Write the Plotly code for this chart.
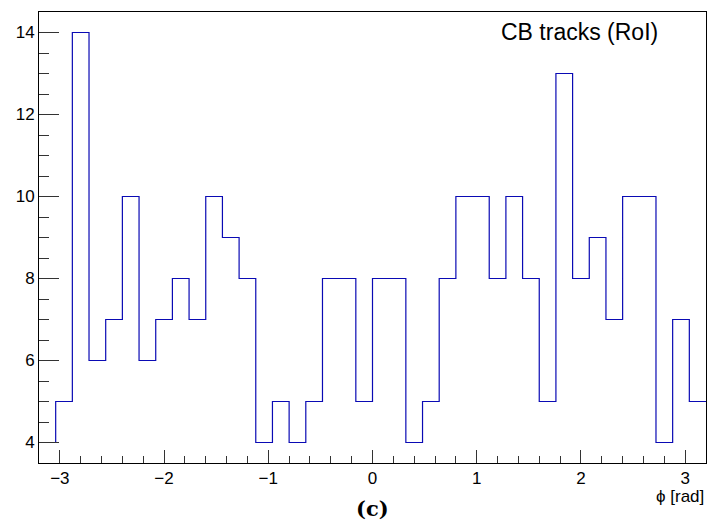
import plotly.graph_objects as go

# Histogram: 40 bins of width 0.16 over [-3.2, 3.2]
x_min = -3.2
bin_width = 0.16
counts = [4, 5, 14, 6, 7, 10, 6, 7, 8, 7,
          10, 9, 8, 4, 5, 4, 5, 8, 8, 5,
          8, 8, 4, 5, 8, 10, 10, 8, 10, 8,
          5, 13, 8, 9, 7, 10, 10, 4, 7, 5]
x_ticks = [-3, -2, -1, 0, 1, 2, 3]
y_ticks = [4, 6, 8, 10, 12, 14]

edges = [round(x_min + i * bin_width, 4) for i in range(len(counts) + 1)]
step_y = counts + [counts[-1]]

fig = go.Figure()
fig.add_trace(go.Scatter(
    x=edges, y=step_y, mode="lines", line_shape="hv",
    line=dict(color="#0a0ab4", width=1.2), showlegend=False, hoverinfo="skip"))

fig.update_layout(
    width=708, height=524,
    margin=dict(l=39, r=2, t=12, b=61),
    paper_bgcolor="white", plot_bgcolor="white",
    font=dict(family="Liberation Sans, Arial, sans-serif", size=17, color="black"),
)
fig.update_xaxes(
    range=[-3.2, 3.2], tickmode="array", tickvals=x_ticks,
    ticks="inside", ticklen=13, tickwidth=1, tickcolor="#333333",
    showline=True, linecolor="black", linewidth=1, mirror=True,
    showgrid=False, zeroline=False,
    minor=dict(dtick=0.2, tick0=0, ticks="inside", ticklen=7, tickcolor="#333333", showgrid=False),
    tickfont=dict(size=17),
)
fig.update_yaxes(
    range=[3.5, 14.5], tickmode="array", tickvals=y_ticks,
    ticks="inside", ticklen=20, tickwidth=1, tickcolor="#333333",
    showline=True, linecolor="black", linewidth=1, mirror=True,
    showgrid=False, zeroline=False,
    minor=dict(dtick=0.5, tick0=0, ticks="inside", ticklen=10, tickcolor="#333333", showgrid=False),
    tickfont=dict(size=17),
)

fig.add_annotation(text="CB tracks (RoI)", xref="paper", yref="paper",
                   x=0.81, y=0.955, xanchor="center", yanchor="middle",
                   showarrow=False, font=dict(size=23, color="black"))
fig.add_annotation(text="ϕ [rad]", xref="paper", yref="paper",
                   x=1.0, y=-0.075, xanchor="right", yanchor="middle",
                   showarrow=False, font=dict(size=17, color="black"))
fig.add_annotation(text="<b>(c)</b>", xref="paper", yref="paper",
                   x=0.5, y=-0.1, xanchor="center", yanchor="middle",
                   showarrow=False,
                   font=dict(family="DejaVu Serif, serif", size=21, color="black"))

fig.write_html("out.html", config={"displayModeBar": False},
               post_script="document.body.style.margin='0';document.body.style.overflow='hidden';")
